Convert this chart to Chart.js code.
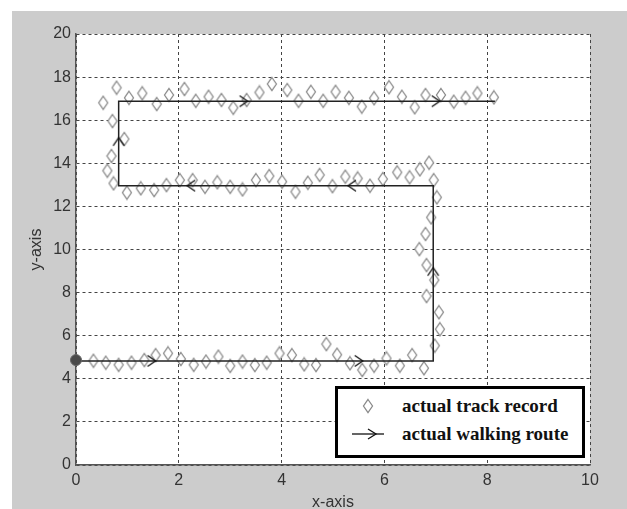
<!DOCTYPE html>
<html lang="en">
<head>
<meta charset="UTF-8">
<title>Track record vs walking route</title>
<script src="https://cdn.jsdelivr.net/npm/chart.js"></script>
<style>
    body { margin: 0; background: #fff; }
    #wrap { position: relative; width: 627px; height: 509px; }
    #legendBox {
        position: absolute; left: 335px; top: 386px; width: 250px; height: 72px;
        box-sizing: border-box; border: 3px solid #000; background: #fff;
        font: bold 19px "Liberation Serif", "Times New Roman", serif; color: #111;
    }
    #legendBox .row { position: absolute; left: 64px; line-height: 22px; white-space: nowrap; }
    #legendBox svg { position: absolute; }
</style>
</head>
<body>
<div id="wrap">
    <canvas id="trackChart" width="627" height="509"></canvas>
    <div id="legendBox">
        <svg style="left:24px;top:9px" width="12" height="16">
            <polygon points="6,1.5 10.5,8 6,14.5 1.5,8" fill="#fff" stroke="#8a8a8a" stroke-width="1.3"/>
        </svg>
        <div class="row" style="top:6px">actual track record</div>
        <svg style="left:12px;top:38px" width="36" height="14">
            <line x1="2" y1="7" x2="34" y2="7" stroke="#111" stroke-width="1.3"/>
            <polyline points="18,2 26,7 18,12" fill="none" stroke="#111" stroke-width="1.3"/>
        </svg>
        <div class="row" style="top:34px">actual walking route</div>
    </div>
</div>

<script>
    // recorded positions (diamonds)
    const trackX = [0.34, 0.58, 0.83, 1.08, 1.33, 1.55, 1.79, 2.04, 2.29, 2.53, 2.77, 3.0, 3.24, 3.48, 3.71, 3.96, 4.2, 4.44, 4.67, 4.87,
        5.08, 5.33, 5.57, 5.8, 6.04, 6.3, 6.54, 6.77,
        6.98, 7.08, 7.06, 6.82, 6.97, 6.82, 6.68, 6.8, 6.91, 7.02, 6.96, 6.87,
        6.69, 6.49, 6.25, 5.97, 5.72, 5.48, 5.24, 4.99, 4.74, 4.51, 4.27, 4.01, 3.76, 3.5, 3.24, 3.0, 2.75, 2.51, 2.27, 2.02,
        1.76, 1.52, 1.26, 0.99, 0.73,
        0.61, 0.69, 0.94, 0.71, 0.53,
        0.79, 1.03, 1.29, 1.57, 1.81, 2.11, 2.33, 2.58, 2.83, 3.06, 3.32, 3.57, 3.81, 4.11, 4.33, 4.57, 4.81, 5.05, 5.31, 5.56,
        5.8, 6.09, 6.34, 6.59, 6.8, 7.1, 7.35, 7.58, 7.81, 8.13];
    const trackY = [4.84, 4.75, 4.65, 4.75, 4.87, 5.1, 5.18, 4.92, 4.65, 4.8, 5.03, 4.6, 4.8, 4.64, 4.75, 5.18, 5.1, 4.67, 4.64, 5.61,
        5.12, 4.72, 4.41, 4.61, 4.95, 4.61, 5.1, 4.49,
        5.54, 6.3, 7.09, 7.84, 8.58, 9.28, 10.02, 10.72, 11.49, 12.42, 13.22, 14.03,
        13.72, 13.35, 13.58, 13.27, 12.96, 13.3, 13.38, 12.94, 13.46, 13.1, 12.68, 13.15, 13.41, 13.22, 12.79, 12.91, 13.12, 12.91, 13.22, 13.22,
        12.99, 12.76, 12.84, 12.64, 13.07,
        13.66, 14.34, 15.13, 15.96, 16.81,
        17.51, 17.04, 17.25, 16.75, 17.17, 17.45, 16.9, 17.09, 16.94, 16.58, 16.94, 17.29, 17.68, 17.4, 16.9, 17.32, 16.9, 17.32, 17.04, 16.63,
        17.02, 17.53, 17.09, 16.6, 17.17, 17.17, 16.86, 17.04, 17.25, 17.06];

    // walking route corners
    const routeX = [0, 6.95, 6.95, 0.83, 0.83, 8.15];
    const routeY = [4.83, 4.83, 12.96, 12.96, 16.88, 16.88];

    // direction arrows along the route (angle in degrees, 0 = right)
    const arrowX = [1.47, 5.5, 6.95, 5.37, 2.24, 0.83, 3.26, 7.0];
    const arrowY = [4.83, 4.83, 8.97, 12.96, 12.96, 15.0, 16.88, 16.88];
    const arrowAngle = [0, 0, -90, 180, 180, -90, 0, 0];

    const startPoint = [{ x: 0, y: 4.87 }];

    const xTicks = [0, 2, 4, 6, 8, 10];
    const yTicks = [0, 2, 4, 6, 8, 10, 12, 14, 16, 18, 20];

    // marker images
    function makeDiamond() {
        const c = document.createElement('canvas');
        c.width = 12; c.height = 16;
        const g = c.getContext('2d');
        g.beginPath();
        g.moveTo(6, 1.5); g.lineTo(10.5, 8); g.lineTo(6, 14.5); g.lineTo(1.5, 8); g.closePath();
        g.fillStyle = '#fff'; g.fill();
        g.strokeStyle = '#8a8a8a'; g.lineWidth = 1.3; g.stroke();
        return c;
    }
    function makeArrow() {
        const c = document.createElement('canvas');
        c.width = 14; c.height = 14;
        const g = c.getContext('2d');
        g.beginPath();
        g.moveTo(3, 1.5); g.lineTo(11, 7); g.lineTo(3, 12.5);
        g.strokeStyle = '#111'; g.lineWidth = 1.3; g.stroke();
        return c;
    }

    const bgPlugin = {
        id: 'bg',
        beforeDraw(chart) {
            const ctx = chart.ctx, a = chart.chartArea;
            ctx.save();
            ctx.fillStyle = '#fff';
            ctx.fillRect(0, 0, chart.width, chart.height);
            ctx.fillStyle = '#cccccc';
            ctx.fillRect(12, 11, chart.width - 12, chart.height - 11);
            ctx.fillStyle = '#fff';
            ctx.fillRect(a.left, a.top, a.right - a.left, a.bottom - a.top);
            ctx.restore();
        }
    };

    const tickFont = { family: '"Liberation Sans", Arial, sans-serif', size: 16 };

    new Chart(document.getElementById('trackChart'), {
        type: 'scatter',
        data: {
            datasets: [
                {
                    label: 'start',
                    data: startPoint,
                    pointRadius: 5.5,
                    backgroundColor: '#4a4a4a',
                    borderColor: '#666',
                    borderWidth: 1,
                    clip: false
                },
                {
                    label: 'arrows',
                    data: arrowX.map((x, i) => ({ x: x, y: arrowY[i] })),
                    pointStyle: makeArrow(),
                    rotation: arrowAngle,
                    clip: false
                },
                {
                    label: 'actual walking route',
                    data: routeX.map((x, i) => ({ x: x, y: routeY[i] })),
                    showLine: true,
                    borderColor: '#222',
                    borderWidth: 1.5,
                    pointRadius: 0,
                    fill: false
                },
                {
                    label: 'actual track record',
                    data: trackX.map((x, i) => ({ x: x, y: trackY[i] })),
                    pointStyle: makeDiamond(),
                    clip: false
                }
            ]
        },
        options: {
            responsive: false,
            animation: false,
            devicePixelRatio: 1,
            layout: { padding: { top: 34, right: 37, left: 0, bottom: 0 } },
            plugins: {
                legend: { display: false },
                tooltip: { enabled: false }
            },
            scales: {
                x: {
                    type: 'linear',
                    min: 0, max: 10,
                    afterFit: s => { s.height = 44; },
                    afterBuildTicks: s => { s.ticks = xTicks.map(v => ({ value: v })); },
                    ticks: { color: '#333', font: tickFont, padding: 6, maxRotation: 0 },
                    grid: { color: '#444', lineWidth: 1, drawTicks: false },
                    border: { display: true, color: '#555', width: 1.5, dash: [3, 3] },
                    title: { display: true, text: 'x-axis', color: '#333', font: tickFont, padding: { top: 0, bottom: -3 } }
                },
                y: {
                    type: 'linear',
                    min: 0, max: 20,
                    afterFit: s => { s.width = 76; },
                    afterBuildTicks: s => { s.ticks = yTicks.map(v => ({ value: v })); },
                    ticks: { color: '#333', font: tickFont, padding: 5 },
                    grid: { color: '#444', lineWidth: 1, drawTicks: false },
                    border: { display: true, color: '#555', width: 1.5, dash: [3, 3] },
                    title: { display: true, text: 'y-axis', color: '#333', font: tickFont, padding: { top: 27, bottom: 0 } }
                }
            }
        },
        plugins: [bgPlugin]
    });
</script>
</body>
</html>
